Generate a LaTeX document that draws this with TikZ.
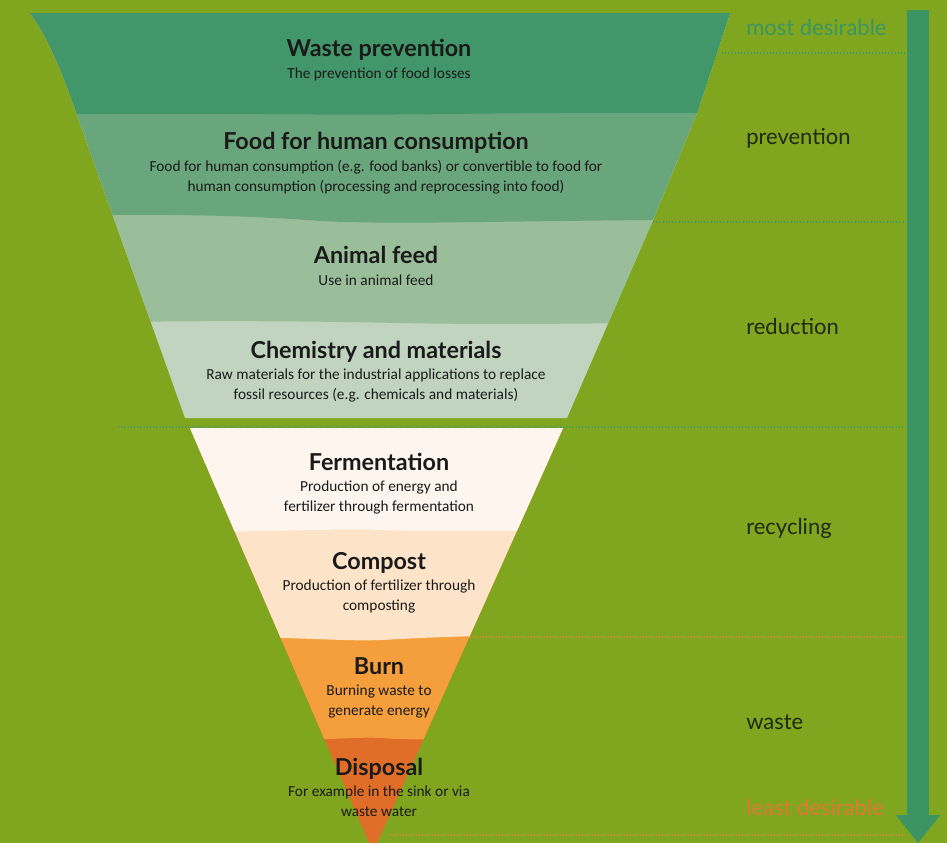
\documentclass[tikz,border=0pt]{standalone}
\usepackage{fontspec}
\setmainfont{Carlito}
\newfontfamily\headfont{Lato}
\usetikzlibrary{arrows.meta}

\definecolor{grass}{HTML}{7FA61E}
\definecolor{ink}{HTML}{1A1A1A}
\definecolor{labelink}{HTML}{1E2A12}
\definecolor{topgreen}{HTML}{3A9664}
\definecolor{dotgreen}{HTML}{3A9A78}
\definecolor{dotorange}{HTML}{E8803A}
\definecolor{lowred}{HTML}{E07832}
\definecolor{arrowgreen}{HTML}{3B9462}
\definecolor{preventcol}{HTML}{41966A}
\definecolor{foodcol}{HTML}{6AA67C}
\definecolor{feedcol}{HTML}{9ABD9A}
\definecolor{chemcol}{HTML}{C0D4C0}
\definecolor{fermentcol}{HTML}{FEF6EE}
\definecolor{compostcol}{HTML}{FDE3C8}
\definecolor{burncol}{HTML}{F59E3C}
\definecolor{disposalcol}{HTML}{E16E28}

% outlines of the two funnel pieces
\def\upperfunnel{(30,13) .. controls (50,40) and (66,82) .. (77,115) -- (185,418) -- (567,418) -- (653,220) -- (697,113) -- (730,13) -- cycle}
\def\lowerfunnel{(190,428) -- (563,428) -- (373,852) -- cycle}

\begin{document}
\begin{tikzpicture}[x=0.75pt,y=-0.75pt,
    title/.style={font=\headfont\bfseries\fontsize{17.5}{20}\selectfont,text=ink,inner sep=0pt,anchor=base},
    desc/.style={font=\fontsize{11.5}{14.6}\selectfont,text=ink,align=center,inner sep=0pt,anchor=base},
    level/.style={font=\headfont\fontsize{16.5}{19}\selectfont,text=labelink,inner sep=0pt,anchor=base west},
    greendots/.style={draw=dotgreen,line width=0.8pt,dash pattern=on 0.8pt off 1.6pt},
    orangedots/.style={draw=dotorange,line width=0.8pt,dash pattern=on 0.8pt off 1.6pt}]

    % background
    \fill[grass] (0,0) rectangle (947,843);
    \useasboundingbox (0,0) rectangle (947,843);

    % dotted separators
    \coordinate (sep1a) at (722,53);
    \coordinate (sep1b) at (905,53);
    \coordinate (sep2a) at (653,222);
    \coordinate (sep2b) at (905,222);
    \coordinate (sep3a) at (118,427);
    \coordinate (sep3b) at (905,427);
    \coordinate (sep4a) at (470,637);
    \coordinate (sep4b) at (905,637);
    \coordinate (sep5a) at (390,835);
    \coordinate (sep5b) at (905,835);
    \draw[greendots] (sep1a) -- (sep1b) (sep2a) -- (sep2b) (sep3a) -- (sep3b);
    \draw[orangedots] (sep4a) -- (sep4b) (sep5a) -- (sep5b);

    % upper funnel
    \begin{scope}
        \clip \upperfunnel;
        \fill[chemcol] (0,0) rectangle (947,430);
        \fill[feedcol] (0,0) -- (0,324) .. controls (150,321) and (250,320) .. (400,323) .. controls (550,326) and (650,321) .. (947,322) -- (947,0) -- cycle;
        \fill[foodcol] (0,0) -- (0,216) .. controls (150,214) and (230,214) .. (320,221) .. controls (420,226) and (550,218) .. (947,219) -- (947,0) -- cycle;
        \fill[preventcol] (0,0) -- (0,115) .. controls (200,112) and (300,116) .. (450,114) .. controls (600,112) and (700,113) .. (947,113) -- (947,0) -- cycle;
    \end{scope}

    % lower funnel
    \begin{scope}
        \clip (0,0) rectangle (947,843);
        \clip \lowerfunnel;
        \fill[disposalcol] (0,420) rectangle (947,870);
        \fill[burncol] (0,420) -- (0,742) .. controls (320,744) and (350,736) .. (380,738) .. controls (410,740) and (440,741) .. (947,738) -- (947,420) -- cycle;
        \fill[compostcol] (0,420) -- (0,636) .. controls (300,634) and (330,642) .. (380,640) .. controls (430,638) and (450,633) .. (947,632) -- (947,420) -- cycle;
        \fill[fermentcol] (0,420) -- (0,533) .. controls (280,533) and (330,528) .. (380,530) .. controls (430,532) and (480,531) .. (947,529) -- (947,420) -- cycle;
    \end{scope}

    % steps of the funnel (two-line texts sit on their last baseline)
    \node[title] (preventT) at (379,56) {Waste prevention};
    \node[desc] (preventD) at (379,78) {The prevention of food losses};
    \node[title] (foodT) at (376,149) {Food for human consumption};
    \node[desc] (foodD) at (376,191) {Food for human consumption (e.g. food banks) or convertible to food for\\human consumption (processing and reprocessing into food)};
    \node[title] (feedT) at (376,263) {Animal feed};
    \node[desc] (feedD) at (376,285) {Use in animal feed};
    \node[title] (chemT) at (376,358) {Chemistry and materials};
    \node[desc] (chemD) at (376,399) {Raw materials for the industrial applications to replace\\fossil resources (e.g. chemicals and materials)};
    \node[title] (fermentT) at (379,470) {Fermentation};
    \node[desc] (fermentD) at (379,511) {Production of energy and\\fertilizer through fermentation};
    \node[title] (compostT) at (379,569) {Compost};
    \node[desc] (compostD) at (379,610) {Production of fertilizer through\\composting};
    \node[title] (burnT) at (379,674) {Burn};
    \node[desc] (burnD) at (379,715) {Burning waste to\\generate energy};
    \node[title] (disposalT) at (379,775) {Disposal};
    \node[desc] (disposalD) at (379,816) {For example in the sink or via\\waste water};

    % scale on the right
    \node[level,text=topgreen] (most) at (746,35) {most desirable};
    \node[level] (prevention) at (746,144) {prevention};
    \node[level] (reduction) at (746,334) {reduction};
    \node[level] (recycling) at (746,534) {recycling};
    \node[level] (waste) at (746,729) {waste};
    \node[level,text=lowred] (least) at (746,815) {least desirable};

    \coordinate (arrtop) at (918,10);
    \coordinate (arrtip) at (918,843);
    \draw[arrowgreen,line width=17pt,-{Triangle[width=32pt,length=21pt]}] (arrtop) -- (arrtip);
\end{tikzpicture}
\end{document}
